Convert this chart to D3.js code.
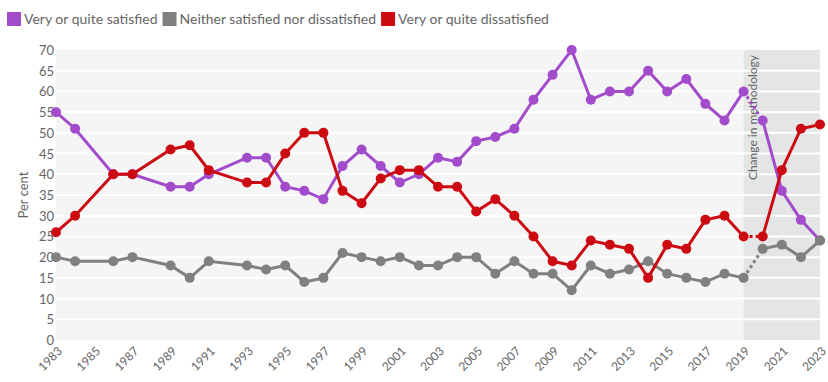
<!DOCTYPE html>
<html>
<head>
<meta charset="utf-8">
<script src="https://cdn.jsdelivr.net/npm/d3@7"></script>
<style>
  body { margin: 0; background: #fff; }
  svg { font-family: Lato, "Open Sans", sans-serif; }
</style>
</head>
<body>
<div class="chart"></div>
<script>
// years and values
let years = [1983, 1984, 1986, 1987, 1989, 1990, 1991, 1993, 1994, 1995, 1996, 1997, 1998, 1999, 2000,
    2001, 2002, 2003, 2004, 2005, 2006, 2007, 2008, 2009, 2010, 2011, 2012, 2013, 2014, 2015, 2016,
    2017, 2018, 2019, 2020, 2021, 2022, 2023]
let satisfied = [55, 51, 40, 40, 37, 37, 40, 44, 44, 37, 36, 34, 42, 46, 42,
    38, 40, 44, 43, 48, 49, 51, 58, 64, 70, 58, 60, 60, 65, 60, 63,
    57, 53, 60, 53, 36, 29, 24]
let neither = [20, 19, 19, 20, 18, 15, 19, 18, 17, 18, 14, 15, 21, 20, 19,
    20, 18, 18, 20, 20, 16, 19, 16, 16, 12, 18, 16, 17, 19, 16, 15,
    14, 16, 15, 22, 23, 20, 24]
let dissatisfied = [26, 30, 40, 40, 46, 47, 41, 38, 38, 45, 50, 50, 36, 33, 39,
    41, 41, 37, 37, 31, 34, 30, 25, 19, 18, 24, 23, 22, 15, 23, 22,
    29, 30, 25, 25, 41, 51, 52]
let seriesNames = ["Very or quite satisfied", "Neither satisfied nor dissatisfied", "Very or quite dissatisfied"]
let seriesColors = ["#a24ccb", "#808080", "#cc0a12"]
let xTicks = d3.range(1983, 2024, 2)
let yTicks = d3.range(0, 71, 5)
let breakYear = 2019   // change in methodology after this year

function run() {
    let w = 828, h = 382
    let margin = { top: 50, right: 8, bottom: 42, left: 56 }
    let svg = d3.select('.chart').append('svg')
        .attr('width', w)
        .attr('height', h)

    let x = d3.scaleLinear().domain([1983, 2023]).range([margin.left, w - margin.right])
    let y = d3.scaleLinear().domain([0, 70]).range([h - margin.bottom, margin.top])

    // plot background
    svg.append('rect')
        .attr('x', x(1983)).attr('y', y(70))
        .attr('width', x(2023) - x(1983)).attr('height', y(0) - y(70))
        .attr('fill', '#f5f5f5')
    svg.append('rect')
        .attr('x', x(breakYear)).attr('y', y(70))
        .attr('width', x(2023) - x(breakYear)).attr('height', y(0) - y(70))
        .attr('fill', '#e4e6e6')

    // grid
    svg.selectAll('line.grid')
        .data(yTicks.slice(1, -1))
        .enter().append('line')
        .attr('class', 'grid')
        .attr('x1', x(1983)).attr('x2', x(2023))
        .attr('y1', d => y(d)).attr('y2', d => y(d))
        .attr('stroke', '#fff').attr('stroke-width', 2)

    // y axis
    svg.selectAll('text.ytick')
        .data(yTicks)
        .enter().append('text')
        .attr('class', 'ytick')
        .attr('x', margin.left - 2)
        .attr('y', d => y(d) + 5)
        .attr('text-anchor', 'end')
        .attr('font-size', 13)
        .attr('fill', '#666')
        .text(d => d)
    svg.append('text')
        .attr('transform', 'translate(28,' + (y(35)) + ') rotate(-90)')
        .attr('text-anchor', 'middle')
        .attr('font-size', 13)
        .attr('fill', '#666')
        .text('Per cent')

    // x axis
    svg.selectAll('text.xtick')
        .data(xTicks)
        .enter().append('text')
        .attr('class', 'xtick')
        .attr('transform', d => 'translate(' + (x(d) + 1) + ',' + (y(0) + 6) + ') rotate(-45)')
        .attr('text-anchor', 'end')
        .attr('dy', '0.7em')
        .attr('font-size', 12)
        .attr('fill', '#666')
        .text(d => d)

    // methodology note
    svg.append('text')
        .attr('transform', 'translate(' + (x(breakYear) + 13) + ',' + (y(70) + 5) + ') rotate(-90)')
        .attr('text-anchor', 'end')
        .attr('font-size', 12)
        .attr('fill', '#666')
        .text('Change in methodology')

    // series
    let allSeries = [satisfied, neither, dissatisfied]
    let line = d3.line().x(d => x(d.year)).y(d => y(d.value))
    allSeries.forEach(function(vals, i) {
        let pts = years.map((yr, j) => ({ year: yr, value: vals[j] }))
        let before = pts.filter(d => d.year <= breakYear)
        let after = pts.filter(d => d.year > breakYear)
        let bridge = [before[before.length - 1], after[0]]
        let g = svg.append('g')
        g.append('path').datum(before).attr('d', line)
            .attr('fill', 'none').attr('stroke', seriesColors[i]).attr('stroke-width', 3)
        g.append('path').datum(after).attr('d', line)
            .attr('fill', 'none').attr('stroke', seriesColors[i]).attr('stroke-width', 3)
        g.append('path').datum(bridge).attr('d', line)
            .attr('fill', 'none').attr('stroke', seriesColors[i]).attr('stroke-width', 3)
            .attr('stroke-dasharray', '3,3')
        g.selectAll('circle')
            .data(pts)
            .enter().append('circle')
            .attr('cx', d => x(d.year))
            .attr('cy', d => y(d.value))
            .attr('r', 5)
            .attr('fill', seriesColors[i])
    })

    // legend
    let lx = 7
    seriesNames.forEach(function(name, i) {
        let g = svg.append('g').attr('transform', 'translate(' + lx + ',12)')
        g.append('rect').attr('width', 14).attr('height', 14).attr('fill', seriesColors[i])
        let t = g.append('text')
            .attr('x', 17).attr('y', 12)
            .attr('font-size', 14)
            .attr('fill', '#666')
            .text(name)
        lx += 17 + t.node().getComputedTextLength() + 5
    })
}
window.addEventListener('load', run)
</script>
</body>
</html>
